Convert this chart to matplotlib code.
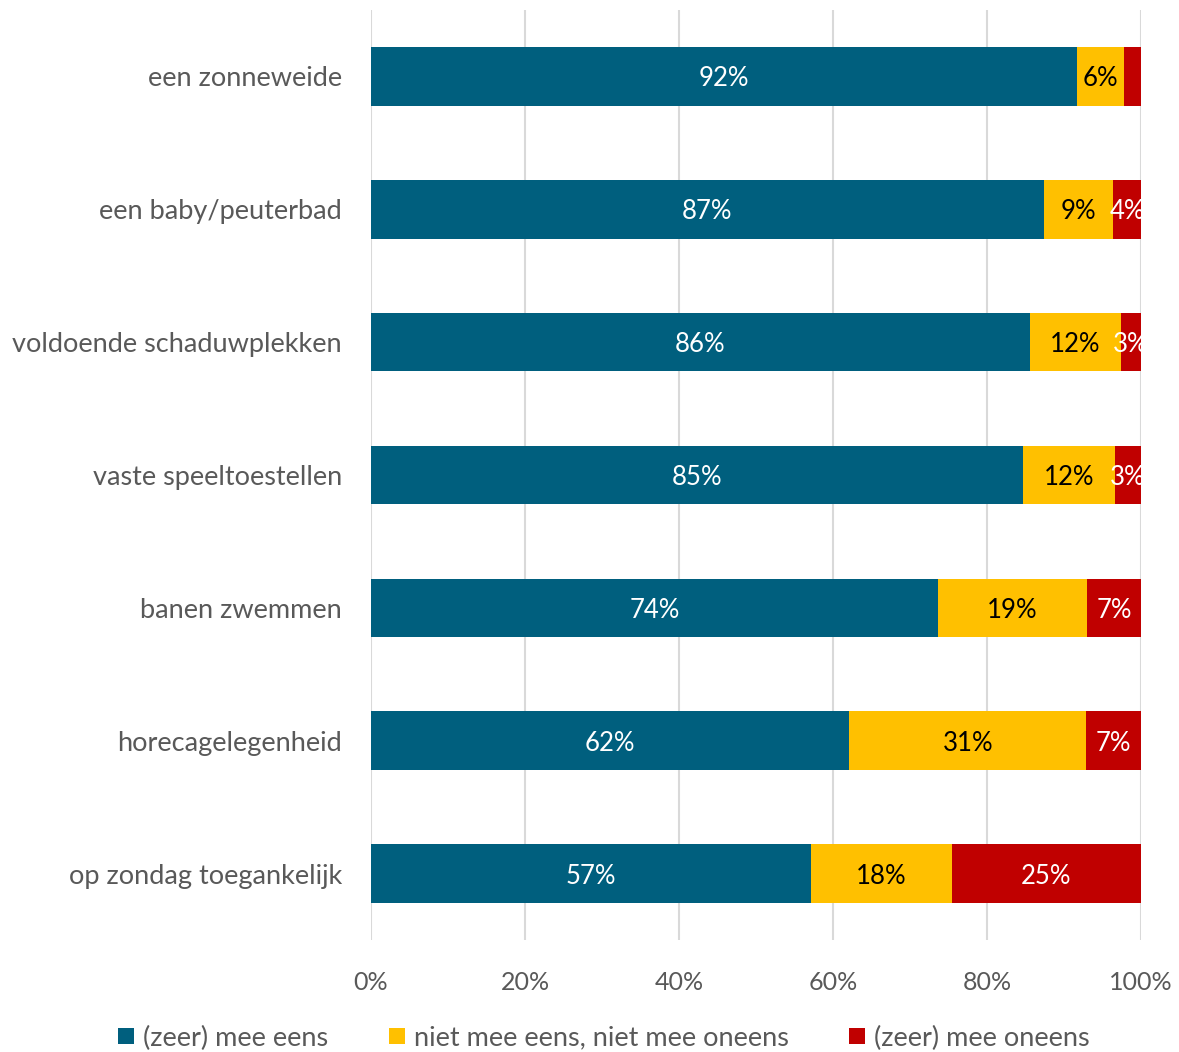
import matplotlib
matplotlib.use("Agg")
import matplotlib.pyplot as plt
import numpy as np

categories = ["een zonneweide", "een baby/peuterbad", "voldoende schaduwplekken",
              "vaste speeltoestellen", "banen zwemmen", "horecagelegenheid",
              "op zondag toegankelijk"]
eens = [91.7, 87.4, 85.6, 84.7, 73.6, 62.1, 57.2]
neutraal = [6.1, 9.0, 11.8, 11.9, 19.4, 30.8, 18.2]
oneens = [2.2, 3.6, 2.6, 3.4, 7.0, 7.1, 24.6]
series_names = ["(zeer) mee eens", "niet mee eens, niet mee oneens", "(zeer) mee oneens"]
xticks = [0, 20, 40, 60, 80, 100]
xticklabels = ["0%", "20%", "40%", "60%", "80%", "100%"]

colors = ["#005F7E", "#FFC000", "#C00000"]
text_colors = ["white", "black", "white"]

plt.rcParams['font.family'] = ['Lato', 'DejaVu Sans']

fig = plt.figure(figsize=(11.79, 10.52), dpi=100)
ax = fig.add_axes([371/1179, 1 - 940/1052, 770/1179, 930/1052])

y = np.arange(len(categories))
left = np.zeros(len(categories))
for vals, col, tc, name in zip([eens, neutraal, oneens], colors, text_colors, series_names):
    vals = np.array(vals)
    ax.barh(y, vals, left=left, height=0.44, color=col, label=name, zorder=3)
    for yi, l, v in zip(y, left, vals):
        if v >= 2.5:
            ax.text(l + v / 2, yi, f"{v:.0f}%", ha="center", va="center_baseline",
                    color=tc, fontsize=18.5, zorder=4, clip_on=True)
    left = left + vals

ax.set_xlim(0, 100)
ax.set_ylim(len(categories) - 0.5, -0.5)
ax.set_yticks(y)
ax.set_yticklabels(categories, fontsize=19.5, color="#595959")
ax.set_xticks(xticks)
ax.set_xticklabels(xticklabels, fontsize=18, color="#595959")
ax.tick_params(axis="both", length=0)
ax.tick_params(axis="y", pad=21)
ax.tick_params(axis="x", pad=22)
for s in ax.spines.values():
    s.set_visible(False)
ax.grid(axis="x", color="#D9D9D9", linewidth=1.5, zorder=0)
ax.set_axisbelow(True)

leg = fig.legend(loc="center", bbox_to_anchor=(604/1179, 1 - 1038/1052), ncol=3, frameon=False,
                 fontsize=19.5, handlelength=0.58, handleheight=0.58, handletextpad=0.33,
                 columnspacing=2.25)
for t in leg.get_texts():
    t.set_color("#595959")

fig.savefig("out.png", dpi=100)
